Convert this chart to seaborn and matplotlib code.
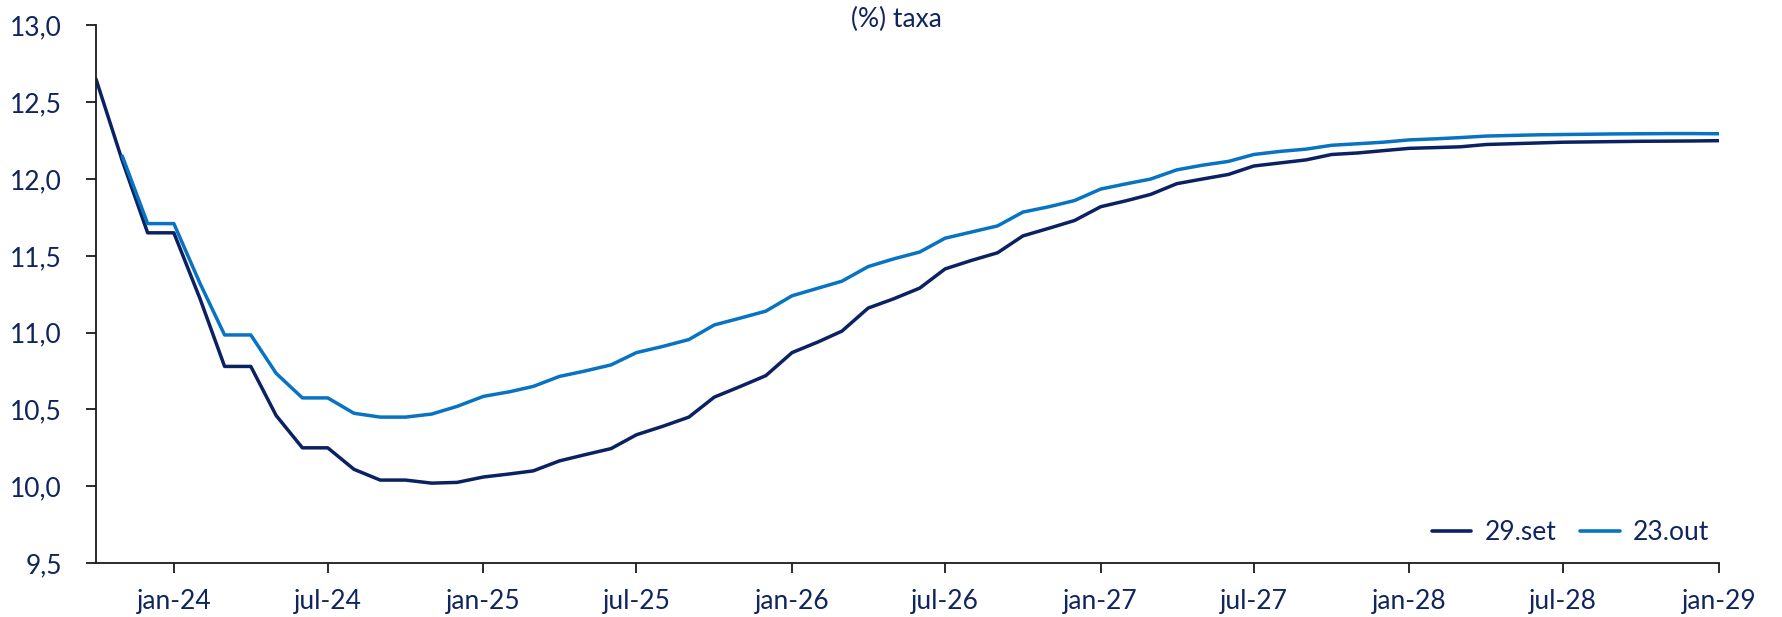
import matplotlib
matplotlib.use("Agg")
import matplotlib.pyplot as plt
from matplotlib.ticker import FuncFormatter
import numpy as np
import pandas as pd
import seaborn as sns

# --- data (monthly, oct-23 .. jan-29) ---
months = pd.date_range("2023-10-01", "2029-01-01", freq="MS")

curva_29set = [
    12.65, 12.12, 11.65,
    11.65, 11.22, 10.78, 10.78, 10.46, 10.25, 10.25, 10.11, 10.04, 10.04, 10.02, 10.025,
    10.06, 10.08, 10.10, 10.165, 10.205, 10.245, 10.335, 10.39, 10.45, 10.58, 10.65, 10.72,
    10.87, 10.94, 11.01, 11.16, 11.22, 11.29, 11.415, 11.47, 11.52, 11.63, 11.68, 11.73,
    11.82, 11.86, 11.90, 11.97, 12.00, 12.03, 12.085, 12.105, 12.125, 12.16, 12.17, 12.185,
    12.20, 12.205, 12.21, 12.225, 12.23, 12.235, 12.24, 12.242, 12.244, 12.246, 12.247, 12.248,
    12.25,
]
curva_23out = [
    np.nan, 12.15, 11.71,
    11.71, 11.32, 10.985, 10.985, 10.735, 10.575, 10.575, 10.475, 10.45, 10.45, 10.47, 10.52,
    10.585, 10.615, 10.65, 10.715, 10.75, 10.79, 10.87, 10.91, 10.955, 11.05, 11.095, 11.14,
    11.24, 11.29, 11.335, 11.43, 11.48, 11.525, 11.615, 11.655, 11.695, 11.785, 11.82, 11.86,
    11.935, 11.97, 12.00, 12.06, 12.09, 12.115, 12.16, 12.18, 12.195, 12.22, 12.23, 12.24,
    12.255, 12.262, 12.27, 12.28, 12.284, 12.288, 12.29, 12.292, 12.294, 12.295, 12.296, 12.296,
    12.295,
]
series_names = ["29.set", "23.out"]
series_colors = ["#0b2262", "#0773c2"]

tick_dates = pd.date_range("2024-01-01", "2029-01-01", freq="6MS")
tick_labels = ["jan-24", "jul-24", "jan-25", "jul-25", "jan-26", "jul-26",
               "jan-27", "jul-27", "jan-28", "jul-28", "jan-29"]
y_ticks = [9.5, 10.0, 10.5, 11.0, 11.5, 12.0, 12.5, 13.0]

df = pd.DataFrame({"data": months, "29.set": curva_29set, "23.out": curva_23out})

# --- style ---
sns.set_style("ticks")
plt.rcParams["font.family"] = ["Lato", "DejaVu Sans"]
text_color = "#10245e"

fig = plt.figure(figsize=(17.82, 6.17), dpi=100)
ax = fig.add_axes([0.0539, 0.0875, 0.9107, 0.8712])

for name, color in zip(series_names, series_colors):
    sns.lineplot(data=df, x="data", y=name, color=color, linewidth=2.5,
                 label=name, ax=ax)

ax.set_xlim(months[0], months[-1])
ax.set_ylim(9.5, 13.0)
ax.set_yticks(y_ticks)
ax.yaxis.set_major_formatter(FuncFormatter(lambda v, p: f"{v:.1f}".replace(".", ",")))
ax.set_xticks(tick_dates)
ax.set_xticklabels(tick_labels)
ax.set_xlabel("")
ax.set_ylabel("")

for side in ["top", "right"]:
    ax.spines[side].set_visible(False)
for side in ["left", "bottom"]:
    ax.spines[side].set_color("#1a1a1a")
    ax.spines[side].set_linewidth(1.3)

ax.tick_params(axis="both", direction="out", length=7.5, width=1.3, color="#1a1a1a",
               labelsize=19, labelcolor=text_color)
ax.tick_params(axis="y", pad=17)
ax.tick_params(axis="x", pad=11)

fig.text(0.503, 0.969, "(%) taxa", ha="center", va="center", fontsize=19, color=text_color)

leg = ax.legend(loc="center right", bbox_to_anchor=(0.994, 0.056), ncol=2, frameon=False,
                fontsize=19, handlelength=1.5, handletextpad=0.5, columnspacing=0.9,
                borderaxespad=0, borderpad=0)
for line in leg.get_lines():
    line.set_linewidth(2.6)
for t in leg.get_texts():
    t.set_color(text_color)

fig.savefig("out.png", dpi=100)
